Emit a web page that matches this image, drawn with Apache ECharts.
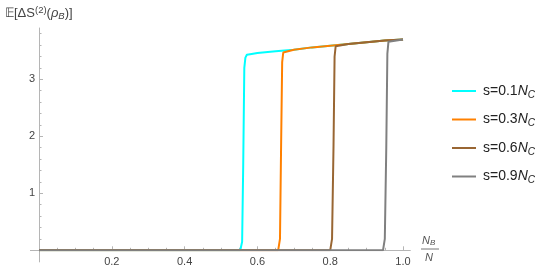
<!DOCTYPE html>
<html><head><meta charset="utf-8">
<script src="https://cdn.jsdelivr.net/npm/echarts@6/dist/echarts.min.js"></script>
<style>html,body{margin:0;padding:0;background:#fff}#c{width:545px;height:267px}</style>
</head><body><div id="c"></div>
<script>
// ---- data ----
const seriesNames = ['0.1', '0.3', '0.6', '0.9'];
const seriesColors = ['#00FFFF', '#FF8000', '#996633', '#808080'];
const x01 = [0, 0.2, 0.4, 0.553, 0.558, 0.561, 0.564, 0.567, 0.571, 0.58, 0.6, 0.65, 0.7, 0.75, 0.8, 0.85, 0.9, 0.95, 1.0];
const y01 = [0, 0, 0, 0, 0.15, 1.5, 3.2, 3.38, 3.43, 3.44, 3.46, 3.49, 3.52, 3.56, 3.59, 3.62, 3.65, 3.68, 3.70];
const x03 = [0, 0.2, 0.4, 0.6, 0.657, 0.662, 0.665, 0.668, 0.671, 0.676, 0.7, 0.75, 0.8, 0.85, 0.9, 0.95, 1.0];
const y03 = [0, 0, 0, 0, 0, 0.2, 1.8, 3.3, 3.47, 3.50, 3.52, 3.56, 3.59, 3.62, 3.65, 3.68, 3.70];
const x06 = [0, 0.2, 0.4, 0.6, 0.8, 0.805, 0.809, 0.812, 0.815, 0.82, 0.85, 0.9, 0.95, 1.0];
const y06 = [0, 0, 0, 0, 0, 0.2, 1.8, 3.4, 3.58, 3.61, 3.62, 3.65, 3.68, 3.70];
const x09 = [0, 0.2, 0.4, 0.6, 0.8, 0.945, 0.95, 0.954, 0.957, 0.96, 0.965, 1.0];
const y09 = [0, 0, 0, 0, 0, 0, 0.2, 1.8, 3.45, 3.66, 3.68, 3.70];
const xTickLabels = [0.2, 0.4, 0.6, 0.8, 1.0];
const yTickLabels = [1, 2, 3];

const xs = [x01, x03, x06, x09];
const ys = [y01, y03, y06, y09];
const F = '"Liberation Sans", Arial, sans-serif';
const axisCol = '#b5b5b5';

const chart = echarts.init(document.getElementById('c'), null, {renderer: 'canvas'});
const series = seriesNames.map((n, i) => ({
  name: 's=' + n,
  type: 'line',
  data: xs[i].map((x, k) => [x, ys[i][k]]),
  showSymbol: false, symbol: 'none',
  lineStyle: {color: seriesColors[i], width: 2},
  itemStyle: {color: seriesColors[i]},
  animation: false,
  z: 2 + i
}));

chart.setOption({
  animation: false,
  grid: {left: 39, top: 28, width: 371.3, height: 222.3, containLabel: false, outerBoundsMode: 'none'},
  xAxis: {
    type: 'value', min: 0, max: 1.02, interval: 0.2,
    axisLine: {onZero: false, lineStyle: {color: axisCol, width: 1}},
    axisTick: {inside: true, length: 4, customValues: xTickLabels, lineStyle: {color: axisCol}},
    minorTick: {show: true, splitNumber: 4, length: 2.5, lineStyle: {color: axisCol}},
    axisLabel: {customValues: xTickLabels, formatter: v => v.toFixed(1), color: '#444', fontSize: 11, fontFamily: F, margin: 6},
    splitLine: {show: false}, minorSplitLine: {show: false}
  },
  yAxis: {
    type: 'value', min: 0, max: 3.9, interval: 1,
    axisLine: {show: true, onZero: false, lineStyle: {color: axisCol, width: 1}},
    axisTick: {show: true, inside: true, length: 4, customValues: yTickLabels, lineStyle: {color: axisCol}},
    minorTick: {show: true, splitNumber: 5, length: 2.5, lineStyle: {color: axisCol}},
    axisLabel: {customValues: yTickLabels, color: '#444', fontSize: 11, fontFamily: F, margin: 4},
    splitLine: {show: false}, minorSplitLine: {show: false}
  },
  legend: {
    orient: 'vertical', left: 452, top: 84, itemGap: 12.5, padding: 0,
    itemWidth: 24, itemHeight: 2, icon: 'rect',
    data: seriesNames.map(n => 's=' + n),
    formatter: name => name + '{i|N}{s|C}',
    textStyle: {
      fontSize: 14, fontFamily: F, color: '#222', padding: [0, 0, 0, 2],
      rich: {
        i: {fontSize: 14, fontStyle: 'italic', fontFamily: F, color: '#222'},
        s: {fontSize: 10, fontStyle: 'italic', fontFamily: F, color: '#222', padding: [8, 0, 0, 0]}
      }
    }
  },
  series: series
});

// axis extensions past the origin (as in the reference, axes cross slightly beyond 0)
const o = chart.convertToPixel({gridIndex: 0}, [0, 0]);
chart.setOption({
  graphic: [
    {type: 'line', shape: {x1: o[0] - 9, y1: Math.round(o[1]) + 0.5, x2: o[0], y2: Math.round(o[1]) + 0.5}, style: {stroke: axisCol, lineWidth: 1}},
    {type: 'line', shape: {x1: Math.round(o[0]) + 0.5, y1: o[1], x2: Math.round(o[0]) + 0.5, y2: o[1] + 12}, style: {stroke: axisCol, lineWidth: 1}},
    {type: 'text', left: 5, top: 5, style: {
      text: '{t|𝔼[ΔS}{p|(2)}{t|(}{it|ρ}{b|B}{t|)]}',
      rich: {
        t: {fontSize: 13, fontFamily: F, fill: '#444'},
        it: {fontSize: 13, fontFamily: F, fontStyle: 'italic', fill: '#444'},
        p: {fontSize: 9.5, fontFamily: F, fill: '#444', padding: [0, 0, 7, 0]},
        b: {fontSize: 9.5, fontFamily: F, fontStyle: 'italic', fill: '#444', padding: [6, 0, 0, 0]}
      }
    }},
    {type: 'text', left: 422, top: 235, style: {
      text: '{n|N}{b|B}',
      rich: {
        n: {fontSize: 11, fontFamily: F, fontStyle: 'italic', fill: '#555'},
        b: {fontSize: 8, fontFamily: F, fontStyle: 'italic', fill: '#555', padding: [5, 0, 0, 0]}
      }
    }},
    {type: 'line', shape: {x1: 421, y1: 249, x2: 439, y2: 249}, style: {stroke: '#777', lineWidth: 1}},
    {type: 'text', left: 425, top: 252, style: {text: 'N', fontSize: 11, fontFamily: F, fontStyle: 'italic', fill: '#555'}}
  ]
});
</script></body></html>
